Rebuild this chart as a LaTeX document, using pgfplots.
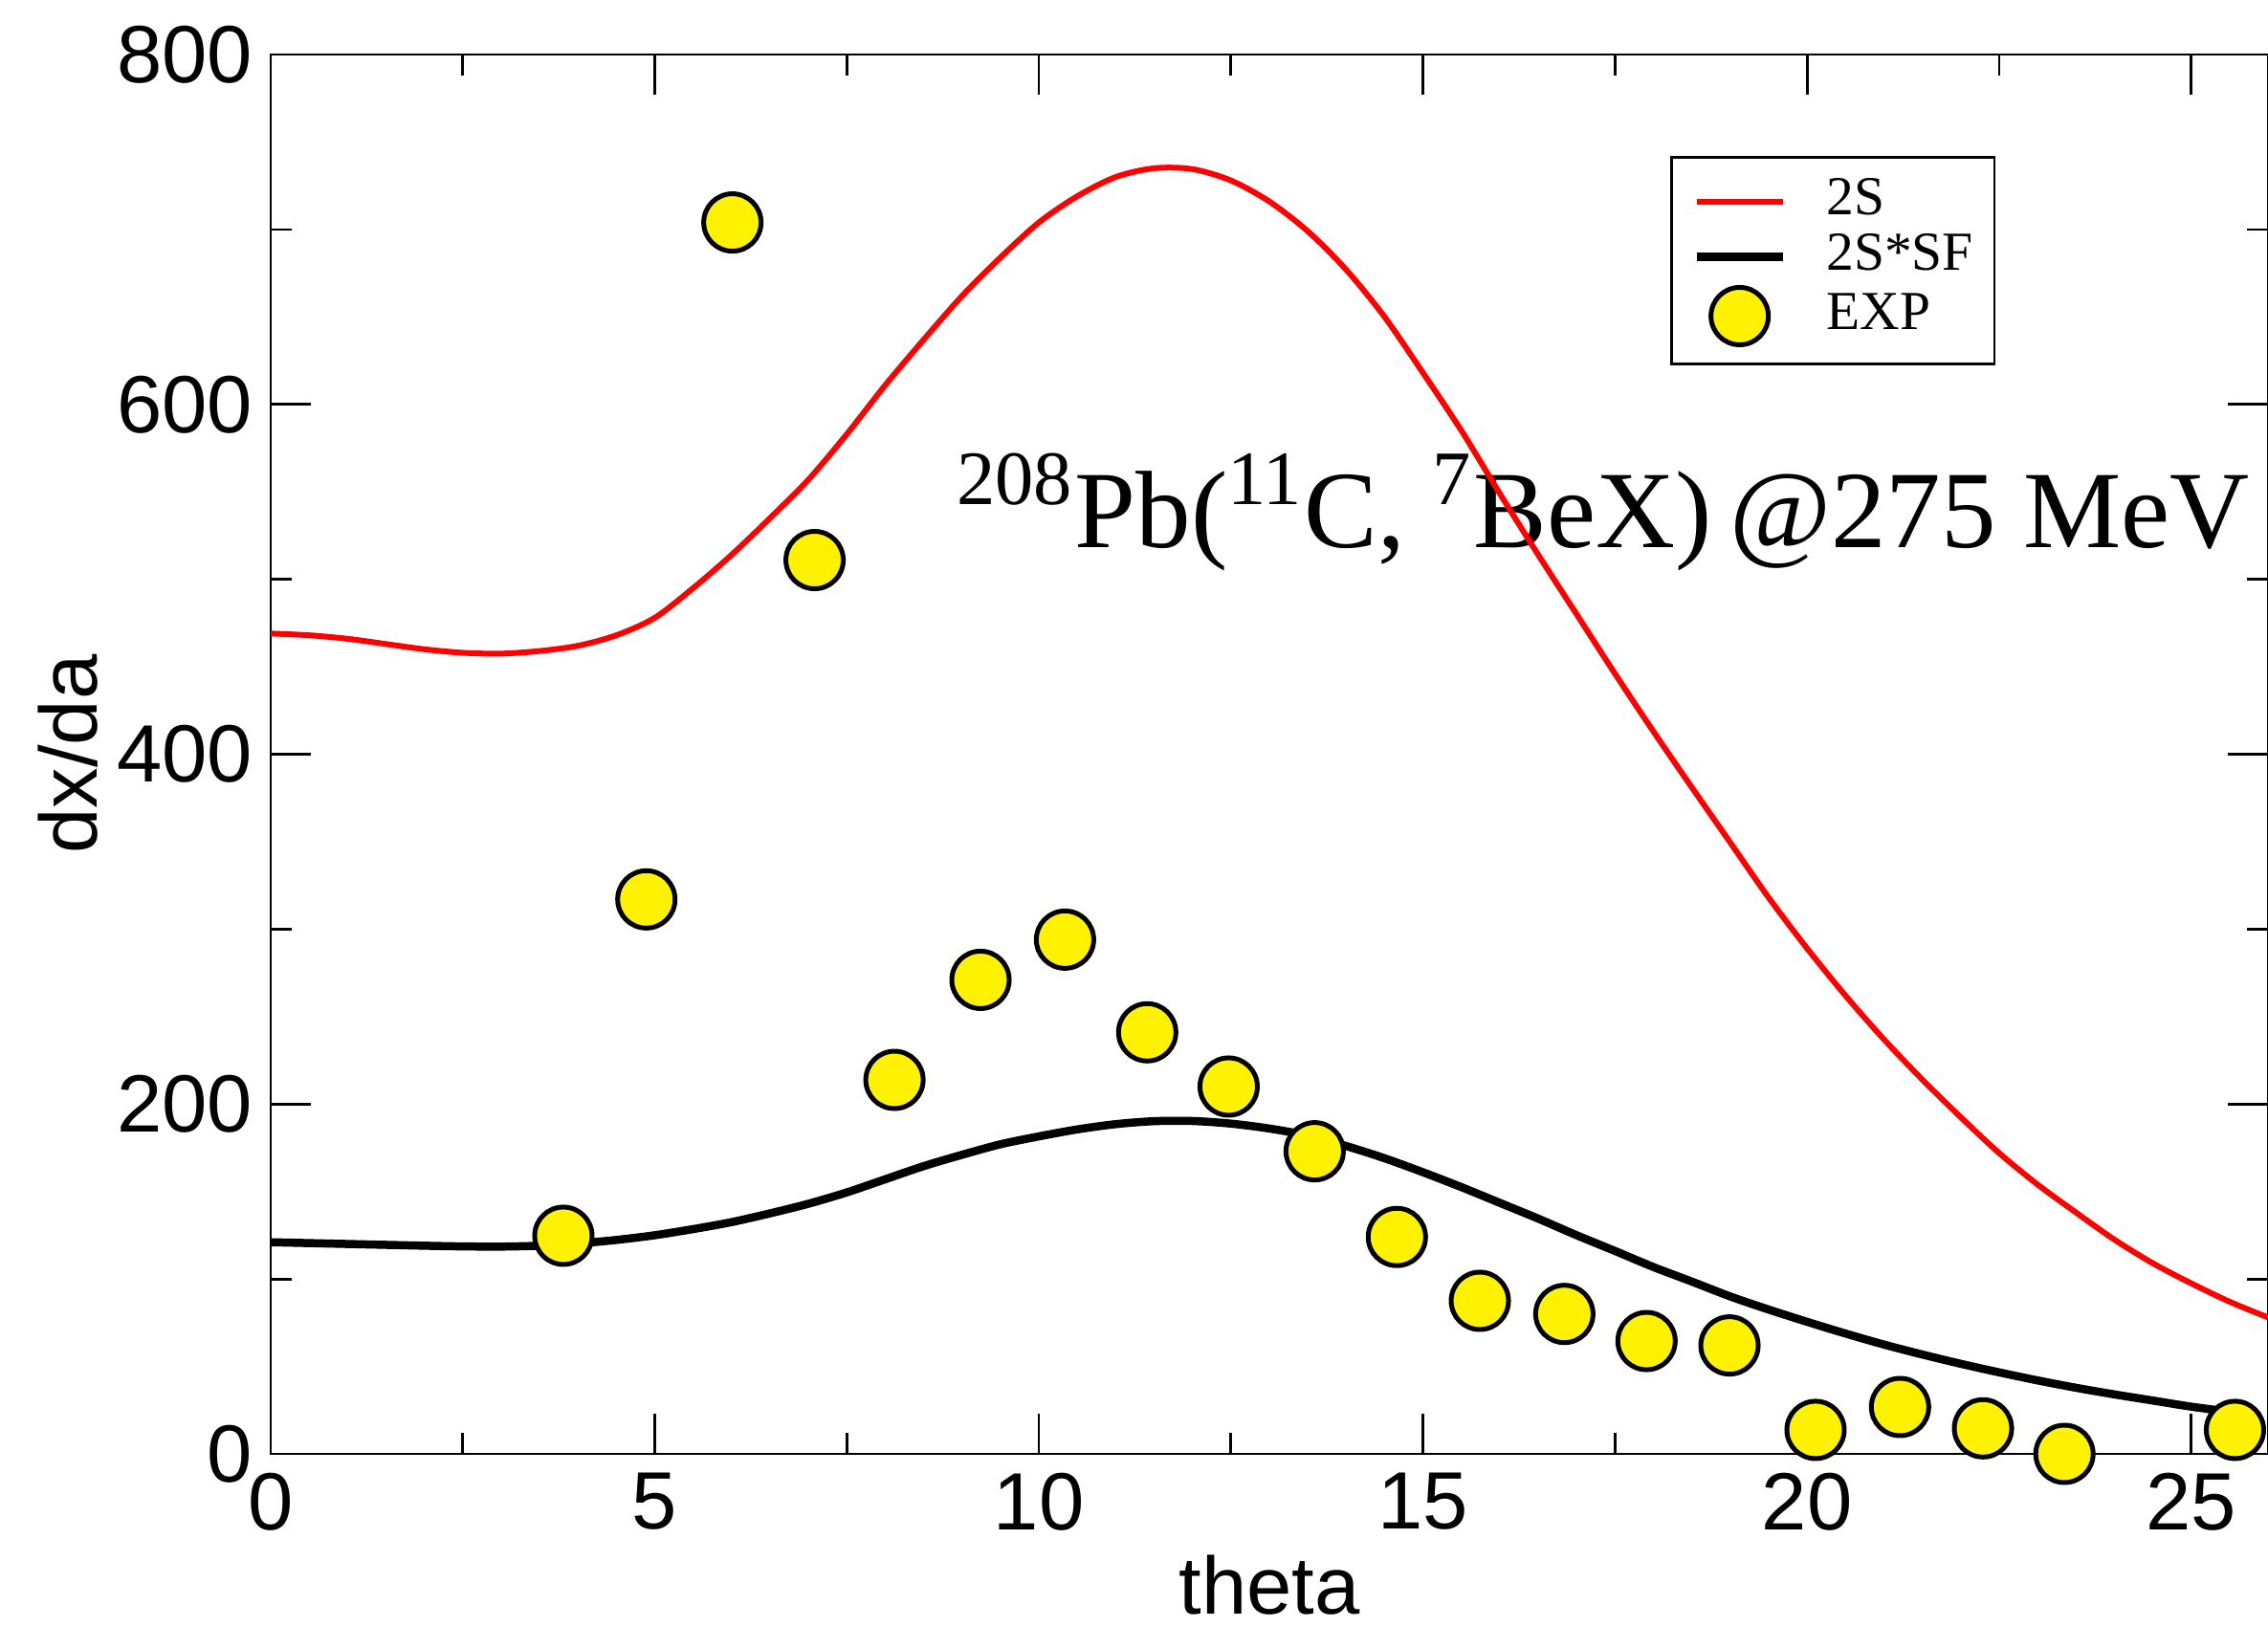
\documentclass[border=0pt]{standalone}
\usepackage{fontspec}
\setmainfont{Liberation Serif}
\setsansfont{Liberation Sans}
\usepackage{pgfplots}
\pgfplotsset{compat=1.18}
\pgfplotsset{
  lineleg/.style={legend image code/.code={\draw[##1] (0pt,0pt) -- (18pt,0pt);}},
  markleg/.style={legend image code/.code={\path (0pt,0pt) (18pt,0pt); \draw[##1] plot coordinates {(9pt,0pt)};}},
}
\pgfplotstableread{
x y
0 469
0.5 468
1 466
1.5 463
2 460
2.5 458
3 457.5
3.5 459
4 462
4.5 468
5 478
5.5 495
6 514
6.5 535
7 557
7.5 583
8 611
8.5 637
9 662
9.5 684
10 704
10.5 719
11 730
11.5 735
12 734.5
12.5 728
13 716
13.5 699
14 677
14.5 650
15 618
15.5 585
16 549
16.5 514
17 480
17.5 446
18 413
18.5 381
19 349.5
19.5 318
20 289
20.5 262
21 237
21.5 214
22 192.5
22.5 172
23 154
23.5 138
24 122.5
24.5 109
25 97.5
25.5 87
26 78
}\redtab
\pgfplotstableread{
x y
0 121
1 120
2 119
2.5 118.6
3 118.5
3.5 119
4 120.3
4.5 122.3
5 125
5.5 128.5
6 132.5
6.5 137.5
7 143
7.5 149.5
8 157
8.5 164.5
9 171
9.5 177
10 181.5
10.5 185.5
11 188.5
11.5 190.2
12 190.3
12.5 188.8
13 186
13.5 182
14 176
14.5 169
15 161
15.5 152.5
16 143.5
16.5 134.5
17 125
17.5 116
18 106.8
18.5 98.5
19 90
19.5 82.5
20 75.5
20.5 68.8
21 62.5
21.5 56.8
22 51.5
22.5 46.6
23 42
23.5 37.8
24 34
24.5 30.5
25 27
25.6 23.5
}\blacktab
\pgfplotstableread{
x y
3.81 124.7
4.89 317
6.01 704
7.08 511
8.12 213.8
9.24 271
10.34 294
11.41 241
12.47 210
13.59 173
14.66 124
15.74 87.5
16.84 80
17.91 64.5
18.99 62
20.11 13.7
21.21 26.8
22.29 14.6
23.35 0
25.57 13.7
}\exptab
\begin{document}
\begin{tikzpicture}
\begin{axis}[
  set layers,
  scale only axis,
  width=417.6pt, height=292.6pt,
  xmin=0, xmax=26, ymin=0, ymax=800,
  clip=false,
  xtick={0,5,...,25}, ytick={0,200,...,800},
  minor x tick num=1, minor y tick num=1,
  tick align=inside,
  major tick length=8.4pt, minor tick length=4.4pt,
  axis line style={line width=0.55pt},
  every tick/.style={line width=0.55pt, black},
  /pgf/number format/assume math mode=true,
  ticklabel style={font=\fontsize{17}{17}\sffamily\selectfont, inner sep=0pt},
  xticklabel style={yshift=-3.8pt},
  yticklabel style={xshift=-3.6pt},
  xlabel={theta}, ylabel={dx/da},
  label style={font=\fontsize{17}{17}\sffamily\selectfont},
  xlabel style={at={(axis description cs:0.5,-0.0936)}, anchor=center},
  ylabel style={at={(axis description cs:-0.1015,0.5)}, anchor=center},
  legend style={at={(axis description cs:0.7007,0.9275)}, anchor=north west,
    draw=black, line width=0.55pt, font=\fontsize{11.5}{12}\selectfont,
    inner xsep=4.4pt, inner ysep=4.0pt, row sep=1.1pt, column sep=8.3pt,
    nodes={inner sep=0pt, text height=8pt, text depth=2.5pt}},
  legend cell align=left,
]
\begin{pgfonlayer}{axis background}
\node[anchor=base west, font=\fontsize{23}{23}\selectfont, inner sep=0pt] at (axis cs:8.92,518)
  {\textsuperscript{208}Pb(\textsuperscript{11}C, \textsuperscript{7}BeX)\,@275 MeV};
\end{pgfonlayer}
\addplot[red, line width=1.2pt, no marks, smooth, lineleg] table {\redtab};
\addlegendentry{2S}
\addplot[black, line width=1.7pt, no marks, smooth, lineleg] table {\blacktab};
\addlegendentry{2S*SF}
\addplot[only marks, mark=*, mark size=6pt,
  mark options={fill=yellow, draw=black, line width=1pt}, markleg] table {\exptab};
\addlegendentry{EXP}
\end{axis}
\pgfresetboundingbox
\path (current axis.south west) ++(-56.6pt,-36.2pt) rectangle ++(474.2pt,340.2pt);
\end{tikzpicture}
\end{document}
